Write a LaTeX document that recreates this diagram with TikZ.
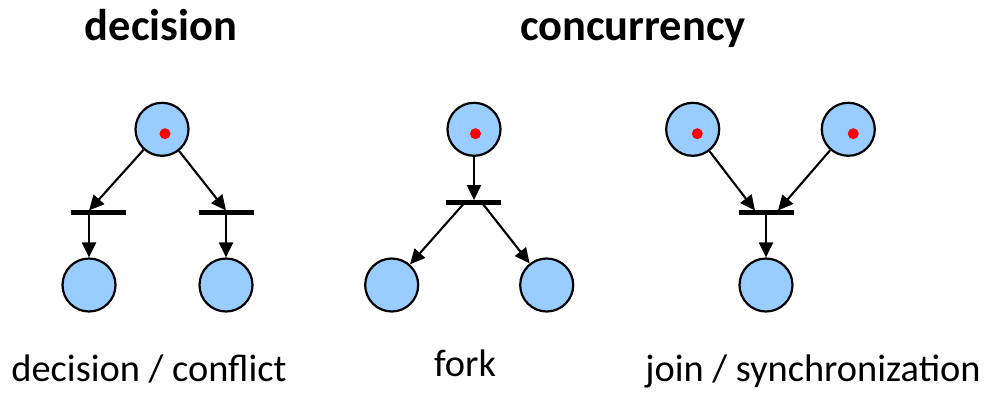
\documentclass[tikz,border=0pt]{standalone}
\usepackage{fontspec}
\setmainfont{Carlito}
\usetikzlibrary{arrows.meta}
\definecolor{placeblue}{HTML}{99CCFF}
\tikzset{
  place/.style={circle,draw=black,line width=2.2pt,fill=placeblue,minimum size=53pt,inner sep=0pt},
  token/.style={circle,fill=red,draw=none,minimum size=11pt,inner sep=0pt},
  trans/.style={rectangle,fill=black,draw=none,minimum width=55.5pt,minimum height=4.5pt,inner sep=0pt},
  arr/.style={line width=2.1pt,-{Triangle[length=15pt,width=14pt]}},
  title/.style={font=\fontsize{44.5}{52}\selectfont\bfseries,anchor=base,inner sep=0pt},
  label/.style={font=\fontsize{38.4}{46}\selectfont,anchor=base,inner sep=0pt}
}
\begin{document}
\begin{tikzpicture}[x=1pt,y=-1pt]
\useasboundingbox (0,0) rectangle (986,392);
% titles
\node[title] (t1) at (161,40) {decision};
\node[title] (t2) at (633,40) {concurrency};
% decision
\node[place] (d0) at (162,129.3) {};
\node[token] (d0t) at (165,133.7) {};
\node[trans] (db1) at (98.5,212.7) {};
\node[trans] (db2) at (226.5,212.7) {};
\node[place] (d1) at (89,285) {};
\node[place] (d2) at (226,285) {};
\coordinate (db1i) at (89,210.5);
\coordinate (db1o) at (89,214.9);
\coordinate (db2i) at (226,210.5);
\coordinate (db2o) at (226,214.9);
\draw[arr] (d0) -- (db1i);
\draw[arr] (d0) -- (db2i);
\draw[arr] (db1o) -- (d1);
\draw[arr] (db2o) -- (d2);
% fork
\node[place] (f0) at (474,129.3) {};
\node[token] (f0t) at (475.5,133.7) {};
\node[trans] (fb) at (473.5,202.3) {};
\node[place] (f1) at (391.7,285) {};
\node[place] (f2) at (546.7,285) {};
\coordinate (fbi) at (474,200.1);
\coordinate (fbo1) at (463,204.5);
\coordinate (fbo2) at (483.3,204.5);
\draw[arr] (f0) -- (fbi);
\draw[arr] (fbo1) -- (f1);
\draw[arr] (fbo2) -- (f2);
% join
\node[place] (j1) at (692.7,129.3) {};
\node[token] (j1t) at (697.3,133.7) {};
\node[place] (j2) at (848.3,129.3) {};
\node[token] (j2t) at (853.3,133.7) {};
\node[trans] (jb) at (766.3,212.7) {};
\node[place] (j0) at (766,285) {};
\coordinate (jbi1) at (755,210.5);
\coordinate (jbi2) at (778,210.5);
\coordinate (jbo) at (766,214.9);
\draw[arr] (j1) -- (jbi1);
\draw[arr] (j2) -- (jbi2);
\draw[arr] (jbo) -- (j0);
% labels
\node[label] (l1) at (149,381.7) {decision / conflict};
\node[label] (l2) at (465,376) {fork};
\node[label] (l3) at (813,381.7) {join / synchronization};
\end{tikzpicture}
\end{document}
